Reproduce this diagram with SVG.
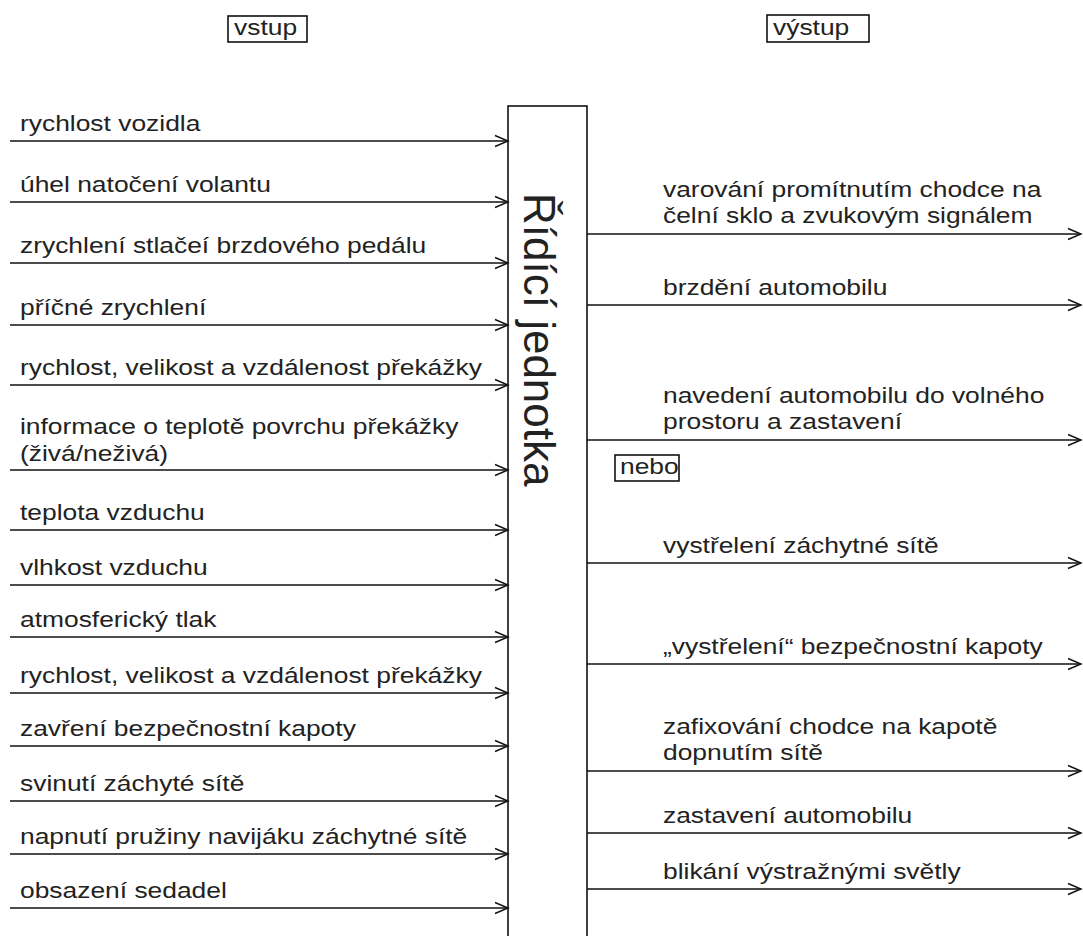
<svg xmlns="http://www.w3.org/2000/svg" width="1083" height="936" viewBox="0 0 1083 936">
<style>
.t{font-family:"Liberation Sans",Arial,sans-serif;font-size:22px;fill:#222}
.big{font-family:"Liberation Sans",Arial,sans-serif;font-size:44px;fill:#222}
.c{stroke:#111;stroke-width:1.6;fill:none}
.b{stroke:#111;stroke-width:1.6;fill:#fff}
</style>
<defs>
<marker id="ah" markerUnits="userSpaceOnUse" markerWidth="16" markerHeight="14" refX="14" refY="7" orient="auto" overflow="visible">
<path d="M1,1.5 L14,7 L1,12.5" fill="none" stroke="#111" stroke-width="1.4"/>
</marker>
</defs>
<rect width="1083" height="936" fill="#fff"/>
<g id="hdr-vstup">
<rect class="b" x="228" y="16" width="79" height="26"/>
<text class="t" transform="matrix(1.2,0,0,1,234,35)">vstup</text>
</g>
<g id="hdr-vystup">
<rect class="b" x="767" y="15" width="102" height="27"/>
<text class="t" transform="matrix(1.2,0,0,1,773,35)">výstup</text>
</g>
<g id="unit">
<rect class="b" x="508" y="106" width="79" height="840"/>
<text class="big" transform="translate(524,193) rotate(90)">Řídící jednotka</text>
</g>
<g id="connectors">
<line class="c" x1="10" y1="141" x2="508" y2="141" marker-end="url(#ah)"/>
<line class="c" x1="10" y1="202" x2="508" y2="202" marker-end="url(#ah)"/>
<line class="c" x1="10" y1="263" x2="508" y2="263" marker-end="url(#ah)"/>
<line class="c" x1="10" y1="325" x2="508" y2="325" marker-end="url(#ah)"/>
<line class="c" x1="10" y1="385" x2="508" y2="385" marker-end="url(#ah)"/>
<line class="c" x1="10" y1="470" x2="508" y2="470" marker-end="url(#ah)"/>
<line class="c" x1="10" y1="530" x2="508" y2="530" marker-end="url(#ah)"/>
<line class="c" x1="10" y1="585" x2="508" y2="585" marker-end="url(#ah)"/>
<line class="c" x1="10" y1="637" x2="508" y2="637" marker-end="url(#ah)"/>
<line class="c" x1="10" y1="693" x2="508" y2="693" marker-end="url(#ah)"/>
<line class="c" x1="10" y1="746" x2="508" y2="746" marker-end="url(#ah)"/>
<line class="c" x1="10" y1="801" x2="508" y2="801" marker-end="url(#ah)"/>
<line class="c" x1="10" y1="854" x2="508" y2="854" marker-end="url(#ah)"/>
<line class="c" x1="10" y1="908" x2="508" y2="908" marker-end="url(#ah)"/>
<line class="c" x1="587" y1="234" x2="1081" y2="234" marker-end="url(#ah)"/>
<line class="c" x1="587" y1="305" x2="1081" y2="305" marker-end="url(#ah)"/>
<line class="c" x1="587" y1="440" x2="1081" y2="440" marker-end="url(#ah)"/>
<line class="c" x1="587" y1="563" x2="1081" y2="563" marker-end="url(#ah)"/>
<line class="c" x1="587" y1="664" x2="1081" y2="664" marker-end="url(#ah)"/>
<line class="c" x1="587" y1="771" x2="1081" y2="771" marker-end="url(#ah)"/>
<line class="c" x1="587" y1="833" x2="1081" y2="833" marker-end="url(#ah)"/>
<line class="c" x1="587" y1="889" x2="1081" y2="889" marker-end="url(#ah)"/>
</g>
<g id="inputs" transform="matrix(1.2,0,0,1,20,0)">
<g id="in1"><text class="t" x="0" y="131">rychlost vozidla</text></g>
<g id="in2"><text class="t" x="0" y="192">úhel natočení volantu</text></g>
<g id="in3"><text class="t" x="0" y="253">zrychlení stlačeí brzdového pedálu</text></g>
<g id="in4"><text class="t" x="0" y="315">příčné zrychlení</text></g>
<g id="in5"><text class="t" x="0" y="375">rychlost, velikost a vzdálenost překážky</text></g>
<g id="in6"><text class="t" x="0" y="434">informace o teplotě povrchu překážky</text><text class="t" x="0" y="461">(živá/neživá)</text></g>
<g id="in7"><text class="t" x="0" y="520">teplota vzduchu</text></g>
<g id="in8"><text class="t" x="0" y="575">vlhkost vzduchu</text></g>
<g id="in9"><text class="t" x="0" y="627">atmosferický tlak</text></g>
<g id="in10"><text class="t" x="0" y="683">rychlost, velikost a vzdálenost překážky</text></g>
<g id="in11"><text class="t" x="0" y="736">zavření bezpečnostní kapoty</text></g>
<g id="in12"><text class="t" x="0" y="791">svinutí záchyté sítě</text></g>
<g id="in13"><text class="t" x="0" y="844">napnutí pružiny navijáku záchytné sítě</text></g>
<g id="in14"><text class="t" x="0" y="898">obsazení sedadel</text></g>
</g>
<g id="outputs" transform="matrix(1.2,0,0,1,663,0)">
<g id="out1"><text class="t" x="0" y="197">varování promítnutím chodce na</text><text class="t" x="0" y="223">čelní sklo a zvukovým signálem</text></g>
<g id="out2"><text class="t" x="0" y="295">brzdění automobilu</text></g>
<g id="out3"><text class="t" x="0" y="403">navedení automobilu do volného</text><text class="t" x="0" y="429">prostoru a zastavení</text></g>
<g id="out4"><text class="t" x="0" y="553">vystřelení záchytné sítě</text></g>
<g id="out5"><text class="t" x="0" y="654">„vystřelení“ bezpečnostní kapoty</text></g>
<g id="out6"><text class="t" x="0" y="734">zafixování chodce na kapotě</text><text class="t" x="0" y="760">dopnutím sítě</text></g>
<g id="out7"><text class="t" x="0" y="823">zastavení automobilu</text></g>
<g id="out8"><text class="t" x="0" y="879">blikání výstražnými světly</text></g>
</g>
<g id="nebo">
<rect class="b" x="615" y="455" width="64" height="26"/>
<text class="t" transform="matrix(1.2,0,0,1,620,474)">nebo</text>
</g>
</svg>
